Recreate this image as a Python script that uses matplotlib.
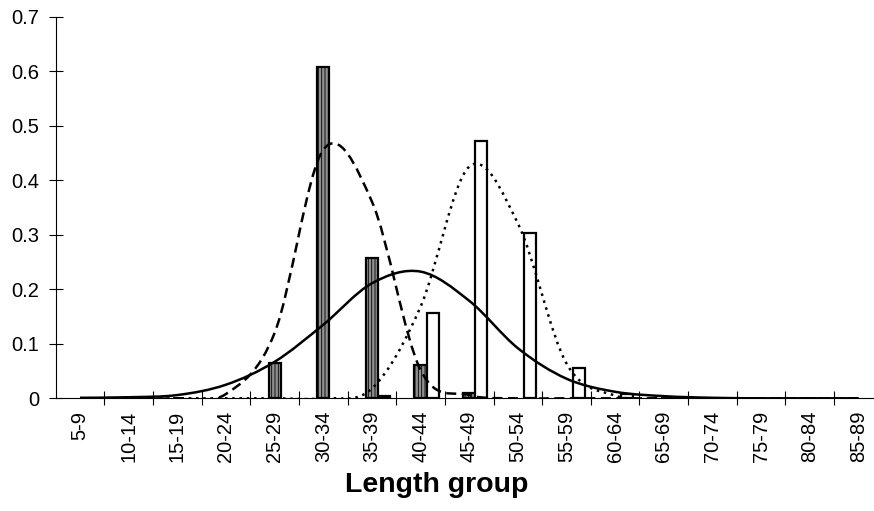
import numpy as np
import matplotlib
matplotlib.use("Agg")
import matplotlib.pyplot as plt
from matplotlib.path import Path
from matplotlib.patches import PathPatch

plt.rcParams['font.family'] = ['Liberation Sans', 'DejaVu Sans']
plt.rcParams['hatch.linewidth'] = 0.6
plt.rcParams['hatch.color'] = '#404040'

groups = ['5-9', '10-14', '15-19', '20-24', '25-29', '30-34', '35-39', '40-44',
          '45-49', '50-54', '55-59', '60-64', '65-69', '70-74', '75-79', '80-84', '85-89']

# observed proportions per length group
grey_bars = [0, 0, 0, 0, 0.064, 0.608, 0.257, 0.061, 0.010, 0, 0, 0, 0, 0, 0, 0, 0]
white_bars = [0, 0, 0, 0, 0, 0, 0.004, 0.156, 0.473, 0.303, 0.055, 0.008, 0, 0, 0, 0, 0]

# fitted curves
grey_fit = [0, 0, 0, 0.008, 0.120, 0.456, 0.361, 0.052, 0.006, 0, 0, 0, 0, 0, 0, 0, 0]
white_fit = [0, 0, 0, 0, 0, 0, 0.018, 0.168, 0.425, 0.321, 0.064, 0.005, 0, 0, 0, 0, 0]
total_fit = [0.001, 0.002, 0.006, 0.025, 0.067, 0.135, 0.211, 0.2325, 0.179, 0.092,
             0.036, 0.012, 0.004, 0.001, 0, 0, 0]


def smooth_path(xs, ys):
    # bezier through the points, like a spreadsheet "smoothed line"
    pts = np.column_stack([xs, ys]).astype(float)
    p = np.vstack([pts[0], pts, pts[-1]])
    verts = [pts[0]]
    codes = [Path.MOVETO]
    for i in range(len(pts) - 1):
        p0, p1, p2, p3 = p[i], p[i + 1], p[i + 2], p[i + 3]
        verts += [p1 + (p2 - p0) / 6, p2 - (p3 - p1) / 6, p2]
        codes += [Path.CURVE4] * 3
    return Path(verts, codes)


fig = plt.figure(figsize=(8.74, 5.11), dpi=100)
ax = fig.add_axes([0.0637, 0.2205, 0.9463, 0.7466])

x = np.arange(len(groups))
w = 0.25

gi = [i for i, v in enumerate(grey_bars) if v > 0]
ax.bar(x[gi], [grey_bars[i] for i in gi], width=w, color='#8f8f8f',
       edgecolor='black', linewidth=1.6, hatch='|||||', zorder=2)
wi = [i for i, v in enumerate(white_bars) if v > 0]
ax.bar(x[wi] + w, [white_bars[i] for i in wi], width=w, color='white',
       edgecolor='black', linewidth=1.6, zorder=2)

ax.add_patch(PathPatch(smooth_path(x, grey_fit), fill=False, ec='black', lw=1.8,
                       ls=(0, (4, 2.2)), capstyle='butt', zorder=3))
ax.add_patch(PathPatch(smooth_path(x, white_fit), fill=False, ec='black', lw=1.8,
                       ls=(0, (1, 1.9)), capstyle='butt', zorder=3))
ax.add_patch(PathPatch(smooth_path(x, total_fit), fill=False, ec='black', lw=1.8,
                       zorder=4))

ax.set_xlim(-0.5, len(groups) - 0.5)
ax.set_ylim(0, 0.7)

ax.set_xticks(x)
ax.set_xticklabels(groups, rotation=90, fontsize=14.5)
ax.set_xticks(np.arange(0.5, len(groups) - 0.5), minor=True)
ax.tick_params(axis='x', which='major', length=0, pad=9)
ax.tick_params(axis='x', which='minor', direction='inout', length=10, width=0.8)

ax.set_yticks(np.arange(0, 0.71, 0.1))
ax.set_yticklabels(['0', '0.1', '0.2', '0.3', '0.4', '0.5', '0.6', '0.7'], fontsize=14.5)
ax.tick_params(axis='y', direction='inout', length=10, width=0.8, pad=7)

for s in ['top', 'right']:
    ax.spines[s].set_visible(False)
for s in ['left', 'bottom']:
    ax.spines[s].set_linewidth(0.8)

ax.set_xlabel('Length group', fontsize=20.5, fontweight='bold')
ax.xaxis.set_label_coords(0.461, -0.226)
ax.xaxis.label.set_va('center')

fig.savefig('out.png', dpi=100)
